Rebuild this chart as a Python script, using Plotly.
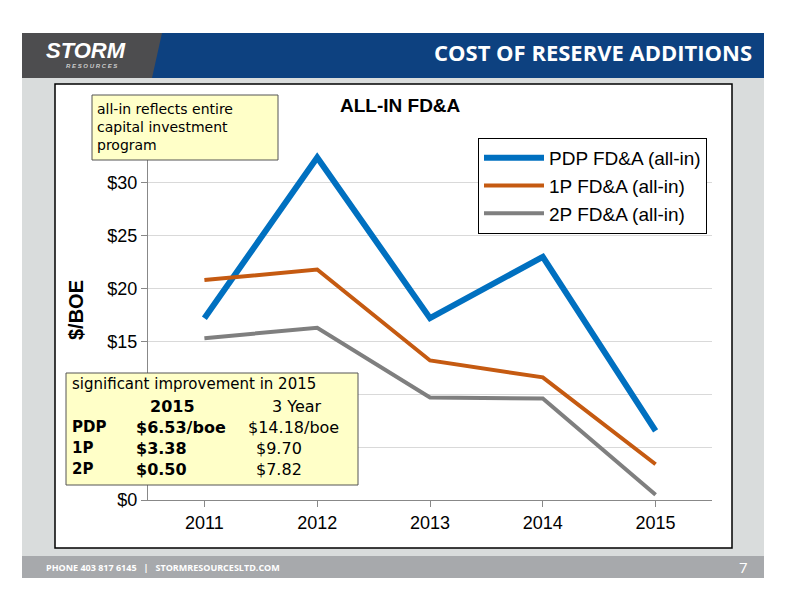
import plotly.graph_objects as go

years = ["2011", "2012", "2013", "2014", "2015"]
pdp = [17.2, 32.4, 17.2, 23.0, 6.53]
p1 = [20.8, 21.8, 13.2, 11.6, 3.38]
p2 = [15.3, 16.3, 9.7, 9.6, 0.50]
y_ticks = [0, 5, 10, 15, 20, 25, 30, 35]
y_labels = ["$0", "", "", "$15", "$20", "$25", "$30", ""]

W, H = 788, 600
OFF = 8  # page margin of the browser
L, R, T, B = 148 - OFF, 712 - OFF, 130 - OFF, 500 - OFF


def px(x):
    return (x - OFF - L) / (R - L)


def py(y):
    return (B - (y - OFF)) / (B - T)


def rect(x0, y0, x1, y1, fill, line=None, width=0, layer="below"):
    return dict(type="rect", xref="paper", yref="paper",
                x0=px(x0), x1=px(x1), y0=py(y1), y1=py(y0),
                fillcolor=fill, line=dict(color=line or fill, width=width), layer=layer)


fig = go.Figure()
fig.add_trace(go.Scatter(x=years, y=pdp, mode="lines", name="PDP FD&A (all-in)",
                         line=dict(color="#0070C0", width=6)))
fig.add_trace(go.Scatter(x=years, y=p1, mode="lines", name="1P FD&A (all-in)",
                         line=dict(color="#C55A11", width=4)))
fig.add_trace(go.Scatter(x=years, y=p2, mode="lines", name="2P FD&A (all-in)",
                         line=dict(color="#7F7F7F", width=4)))

shapes = [
    rect(22, 78, 764, 556, "#D9DCDC"),
    rect(55, 84, 732, 548, "white", "black", 1.5),
    rect(22, 33, 764, 78, "#0D4180"),
    dict(type="path", xref="paper", yref="paper", layer="below",
         path=f"M {px(22)},{py(33)} L {px(162)},{py(33)} L {px(152)},{py(78)} L {px(22)},{py(78)} Z",
         fillcolor="#4D4D4F", line=dict(width=0)),
    rect(22, 556, 764, 578, "#A7A9AC"),
    rect(92, 95, 278, 160, "#FFFFC8", "#555555", 1, "above"),
    rect(66, 373, 358, 485, "#FFFFC8", "#555555", 1, "above"),
]

ann = []


def text(x, y, s, size, color="black", family="DejaVu Sans", xanchor="left", angle=0):
    ann.append(dict(xref="paper", yref="paper", x=px(x), y=py(y), text=s, showarrow=False,
                    font=dict(size=size, color=color, family=family),
                    xanchor=xanchor, yanchor="middle", textangle=angle, align="left"))


text(44, 50, "<b><i>STORM</i></b>", 22, "white", "Liberation Sans")
text(64, 66, "<b><i>R E S O U R C E S</i></b>", 6, "#cccccc", "Liberation Sans")
text(754, 52, "<b>COST OF RESERVE ADDITIONS</b>", 22, "white", "Open Sans", "right")
text(44, 567, "<b>PHONE 403 817 6145   |   STORMRESOURCESLTD.COM</b>", 9, "white", "Open Sans")
text(750, 567, "7", 15, "white", "Open Sans", "right")
text(400, 105, "<b>ALL-IN FD&A</b>", 19, "black", "Liberation Sans", "center")
text(76, 310, "<b>$/BOE</b>", 20, "black", "Liberation Sans", "center", -90)
text(95, 127, "all-in reflects entire<br>capital investment<br>program", 14)
text(70, 384, "significant improvement in 2015", 15)
rows = [("", "<b>2015</b>", "3 Year"), ("<b>PDP</b>", "<b>$6.53/boe</b>", "$14.18/boe"),
        ("<b>1P</b>", "<b>$3.38</b>", "$9.70"), ("<b>2P</b>", "<b>$0.50</b>", "$7.82")]
for i, (a, b, c) in enumerate(rows):
    yy = 406 + i * 21
    text(70, yy, a, 15)
    text(134 if i else 148, yy, b, 16)
    text(246 if i == 1 else (270 if i == 0 else 254), yy, c, 16)

fig.update_layout(
    width=W, height=H, margin=dict(l=L, r=W - R, t=T, b=H - B),
    paper_bgcolor="white", plot_bgcolor="rgba(0,0,0,0)",
    shapes=shapes, annotations=ann,
    legend=dict(x=px(478), y=py(138), xanchor="left", yanchor="top",
                bgcolor="white", bordercolor="black", borderwidth=1,
                font=dict(size=19, family="Liberation Sans", color="black"),
                itemwidth=60, tracegroupgap=0),
)
fig.update_xaxes(range=[-0.5, 4.5], showgrid=False, showline=True, linecolor="#888888",
                 ticks="outside", ticklen=6, tickcolor="#888888",
                 tickfont=dict(size=18, family="Liberation Sans", color="black"))
fig.update_yaxes(range=[0, 35], tickvals=y_ticks, ticktext=y_labels,
                 gridcolor="#D9D9D9", showline=True, linecolor="#888888", zeroline=False,
                 ticks="outside", ticklen=6, tickcolor="#888888",
                 tickfont=dict(size=18, family="Liberation Sans", color="black"))

fig.write_html("out.html")
